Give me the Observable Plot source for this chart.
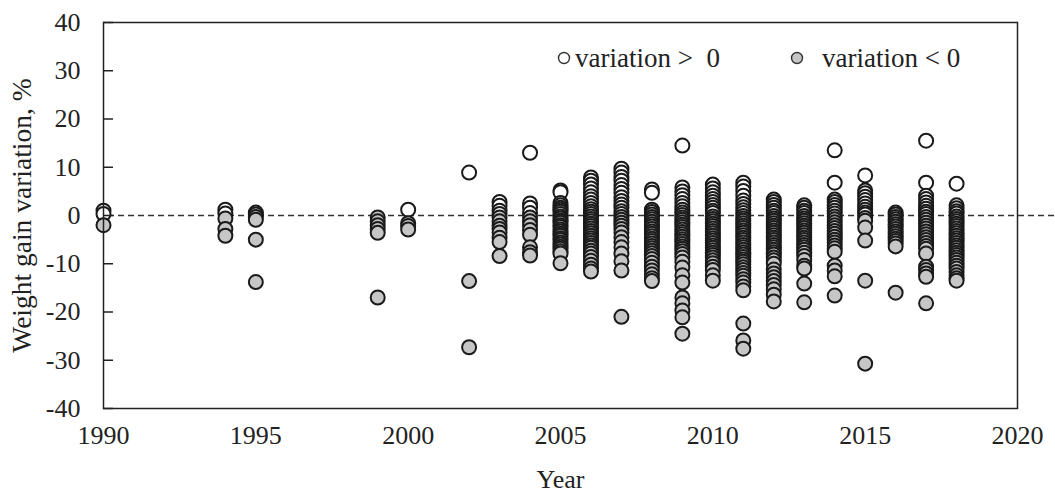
<!DOCTYPE html>
<html>
<head>
<meta charset="utf-8">
<script src="https://cdn.jsdelivr.net/npm/d3@7"></script>
<script src="https://cdn.jsdelivr.net/npm/@observablehq/plot@0.6"></script>
<style>
  html, body { margin: 0; padding: 0; background: #fff; }
  #wrap { position: relative; width: 1055px; height: 497px; font-family: "Liberation Serif", "Times New Roman", serif; }
  .lt { position: absolute; font-size: 27px; line-height: 1; color: #222; white-space: pre; top: 44.5px; }
  .lc { position: absolute; top: 51px; }
</style>
</head>
<body>
<div id="wrap">
  <svg class="lc" style="left:557px;" width="14" height="14"><circle cx="7" cy="7" r="5.5" fill="#fff" stroke="#333" stroke-width="1.4"/></svg>
  <div class="lt" style="left:575px;">variation &gt;  0</div>
  <svg class="lc" style="left:790px;" width="14" height="14"><circle cx="7" cy="7" r="5.5" fill="#c6c6c6" stroke="#333" stroke-width="1.4"/></svg>
  <div class="lt" style="left:822px;">variation &lt; 0</div>
</div>
<script>
const xTicks = [1990, 1995, 2000, 2005, 2010, 2015, 2020];
const yTicks = [-40, -30, -20, -10, 0, 10, 20, 30, 40];

const years = [1990, 1994, 1995, 1999, 2000, 2002, 2003, 2004, 2005, 2006, 2007, 2008, 2009, 2010, 2011, 2012, 2013, 2014, 2015, 2016, 2017, 2018];

const v1990 = [1.0, 0.3, -2.0];
const v1994 = [1.2, 0.4, -0.6, -2.8, -4.2];
const v1995 = [0.6, 0.2, -0.3, -0.9, -5.0, -13.8];
const v1999 = [-0.4, -1.2, -2.0, -2.8, -3.6, -17.0];
const v2000 = [1.2, -1.6, -2.2, -2.9];
const v2002 = [8.9, -13.6, -27.3];
const v2003 = [2.8, 2.0, 1.0, 0.3, -0.4, -1.2, -2.1, -2.8, -3.5, -4.6, -5.5, -8.4];
const v2004 = [13.0, 2.5, 1.6, 0.5, -0.4, -1.2, -2.0, -3.0, -4.0, -6.6, -7.6, -8.3];
const v2005 = [5.2, 4.8, 2.6, 2.1, 1.6, 1.2, 0.8, 0.3, -0.2, -0.6, -1.1, -1.5, -2.0, -2.4, -2.9, -3.3, -3.8, -4.2, -4.7, -5.1, -5.6, -6.0, -6.5, -6.9, -7.4, -7.9, -9.9];
const v2006 = [7.9, 7.2, 6.4, 5.6, 4.8, 4.0, 3.3, 2.6, 1.9, 1.3, 0.8, 0.3, -0.2, -0.7, -1.2, -1.7, -2.2, -2.7, -3.2, -3.7, -4.2, -4.7, -5.2, -5.7, -6.2, -6.7, -7.3, -7.9, -8.6, -9.4, -10.2, -11.0, -11.6];
const v2007 = [9.7, 8.9, 8.0, 7.2, 6.3, 5.5, 4.7, 3.8, 3.0, 2.3, 1.6, 0.9, 0.3, -0.3, -0.9, -1.5, -2.1, -2.8, -3.5, -4.5, -5.5, -6.6, -7.9, -9.5, -11.4, -21.0];
const v2008 = [5.4, 4.7, 1.2, 0.7, 0.2, -0.3, -0.8, -1.3, -1.8, -2.3, -2.8, -3.3, -3.8, -4.3, -4.8, -5.3, -5.8, -6.3, -6.8, -7.3, -7.8, -8.4, -9.0, -9.8, -10.6, -11.4, -12.2, -13.0, -13.6];
const v2009 = [14.5, 5.8, 5.0, 4.2, 3.4, 2.6, 1.9, 1.2, 0.6, 0.1, -0.4, -0.9, -1.4, -1.9, -2.4, -2.9, -3.4, -3.9, -4.4, -4.9, -5.4, -5.9, -6.4, -6.9, -7.4, -8.0, -8.7, -9.6, -10.8, -12.4, -13.9, -17.0, -18.2, -19.7, -21.1, -24.5];
const v2010 = [6.4, 5.6, 4.8, 4.1, 3.4, 2.8, 2.2, 1.6, 1.0, 0.5, -0.2, -0.7, -1.2, -1.7, -2.2, -2.7, -3.2, -3.7, -4.2, -4.7, -5.2, -5.7, -6.2, -6.7, -7.2, -7.7, -8.2, -8.7, -9.3, -9.9, -10.6, -11.3, -12.4, -13.5];
const v2011 = [6.8, 6.0, 5.1, 4.1, 3.1, 2.4, 1.7, 1.1, 0.5, -0.1, -0.6, -1.1, -1.6, -2.1, -2.6, -3.1, -3.6, -4.1, -4.6, -5.1, -5.6, -6.1, -6.6, -7.1, -7.6, -8.1, -8.6, -9.1, -9.6, -10.1, -10.7, -11.3, -11.9, -12.5, -13.2, -13.9, -14.7, -15.5, -22.4, -25.9, -27.6];
const v2012 = [3.3, 2.8, 2.2, 1.6, 1.0, 0.5, -0.1, -0.6, -1.1, -1.6, -2.1, -2.6, -3.1, -3.6, -4.1, -4.6, -5.1, -5.6, -6.1, -6.6, -7.1, -7.6, -8.1, -8.7, -9.3, -10.0, -11.2, -12.0, -12.8, -13.6, -14.4, -15.3, -16.4, -17.8];
const v2013 = [2.1, 1.6, 1.0, 0.5, -0.1, -0.6, -1.1, -1.6, -2.1, -2.6, -3.1, -3.6, -4.1, -4.6, -5.1, -5.6, -6.1, -6.6, -7.1, -7.7, -8.4, -9.2, -10.4, -11.0, -14.1, -18.0];
const v2014 = [13.5, 6.8, 3.3, 2.8, 2.2, 1.6, 1.0, 0.4, -0.2, -0.8, -1.4, -2.0, -2.6, -3.2, -3.8, -4.4, -5.0, -5.6, -6.2, -6.8, -7.5, -10.4, -11.4, -12.6, -16.6];
const v2015 = [8.3, 5.2, 4.6, 3.9, 3.2, 2.5, 1.8, 1.2, 0.6, 0.2, -0.5, -1.1, -2.5, -5.2, -13.5, -30.7];
const v2016 = [0.6, 0.2, -0.3, -0.8, -1.3, -1.8, -2.3, -2.8, -3.3, -3.8, -4.3, -4.8, -5.3, -5.8, -6.4, -16.0];
const v2017 = [15.5, 6.8, 4.1, 3.4, 2.7, 2.0, 1.4, 0.8, 0.3, -0.3, -0.9, -1.5, -2.1, -2.7, -3.3, -3.9, -4.5, -5.1, -5.7, -6.3, -6.9, -7.9, -10.6, -11.3, -12.0, -12.7, -18.2];
const v2018 = [6.6, 2.1, 1.5, 0.9, 0.4, -0.2, -0.7, -1.2, -1.7, -2.2, -2.7, -3.2, -3.7, -4.2, -4.7, -5.2, -5.7, -6.2, -6.7, -7.2, -7.7, -8.2, -8.7, -9.2, -9.8, -10.4, -11.0, -11.7, -12.4, -13.0, -13.5];

const valueLists = [v1990, v1994, v1995, v1999, v2000, v2002, v2003, v2004, v2005, v2006, v2007, v2008, v2009, v2010, v2011, v2012, v2013, v2014, v2015, v2016, v2017, v2018];

const data = years.flatMap((yr, i) => valueLists[i].map(v => ({year: yr, value: v})));

const chart = Plot.plot({
  width: 1055,
  height: 497,
  marginLeft: 103,
  marginRight: 38,
  marginTop: 22,
  marginBottom: 89,
  style: {fontFamily: "'Liberation Serif', 'Times New Roman', serif", fontSize: "26px", color: "#222", background: "transparent"},
  x: {domain: [1990, 2020]},
  y: {domain: [-40, 40]},
  marks: [
    Plot.ruleY([0], {stroke: "#333", strokeWidth: 1.6, strokeDasharray: "6,4", insetLeft: -5, insetRight: -40}),
    Plot.dot(data, {x: "year", y: "value", r: 7, fill: d => d.value > 0 ? "#ffffff" : "#c6c6c6", stroke: "#1a1a1a", strokeWidth: 2}),
    Plot.frame({stroke: "#222", strokeWidth: 1.5}),
    Plot.axisX({ticks: xTicks, tickSize: 0, tickPadding: 17, tickFormat: d => String(d), label: "Year", labelAnchor: "center", labelOffset: 79, labelArrow: "none"}),
    Plot.axisY({ticks: yTicks, tickSize: 0, tickPadding: 23, tickFormat: d => String(d), label: null}),
    Plot.axisY({ticks: yTicks, tickSize: 0, text: null, label: "Weight gain variation, %", labelAnchor: "center", labelOffset: 92, labelArrow: "none", fontSize: 27.5}),
    Plot.axisY({ticks: yTicks, tickSize: -10, text: null, label: null, stroke: "#222", strokeWidth: 1.5})
  ]
});
chart.style.position = "absolute";
chart.style.left = "0";
chart.style.top = "0";
document.getElementById("wrap").prepend(chart);
</script>
</body>
</html>
